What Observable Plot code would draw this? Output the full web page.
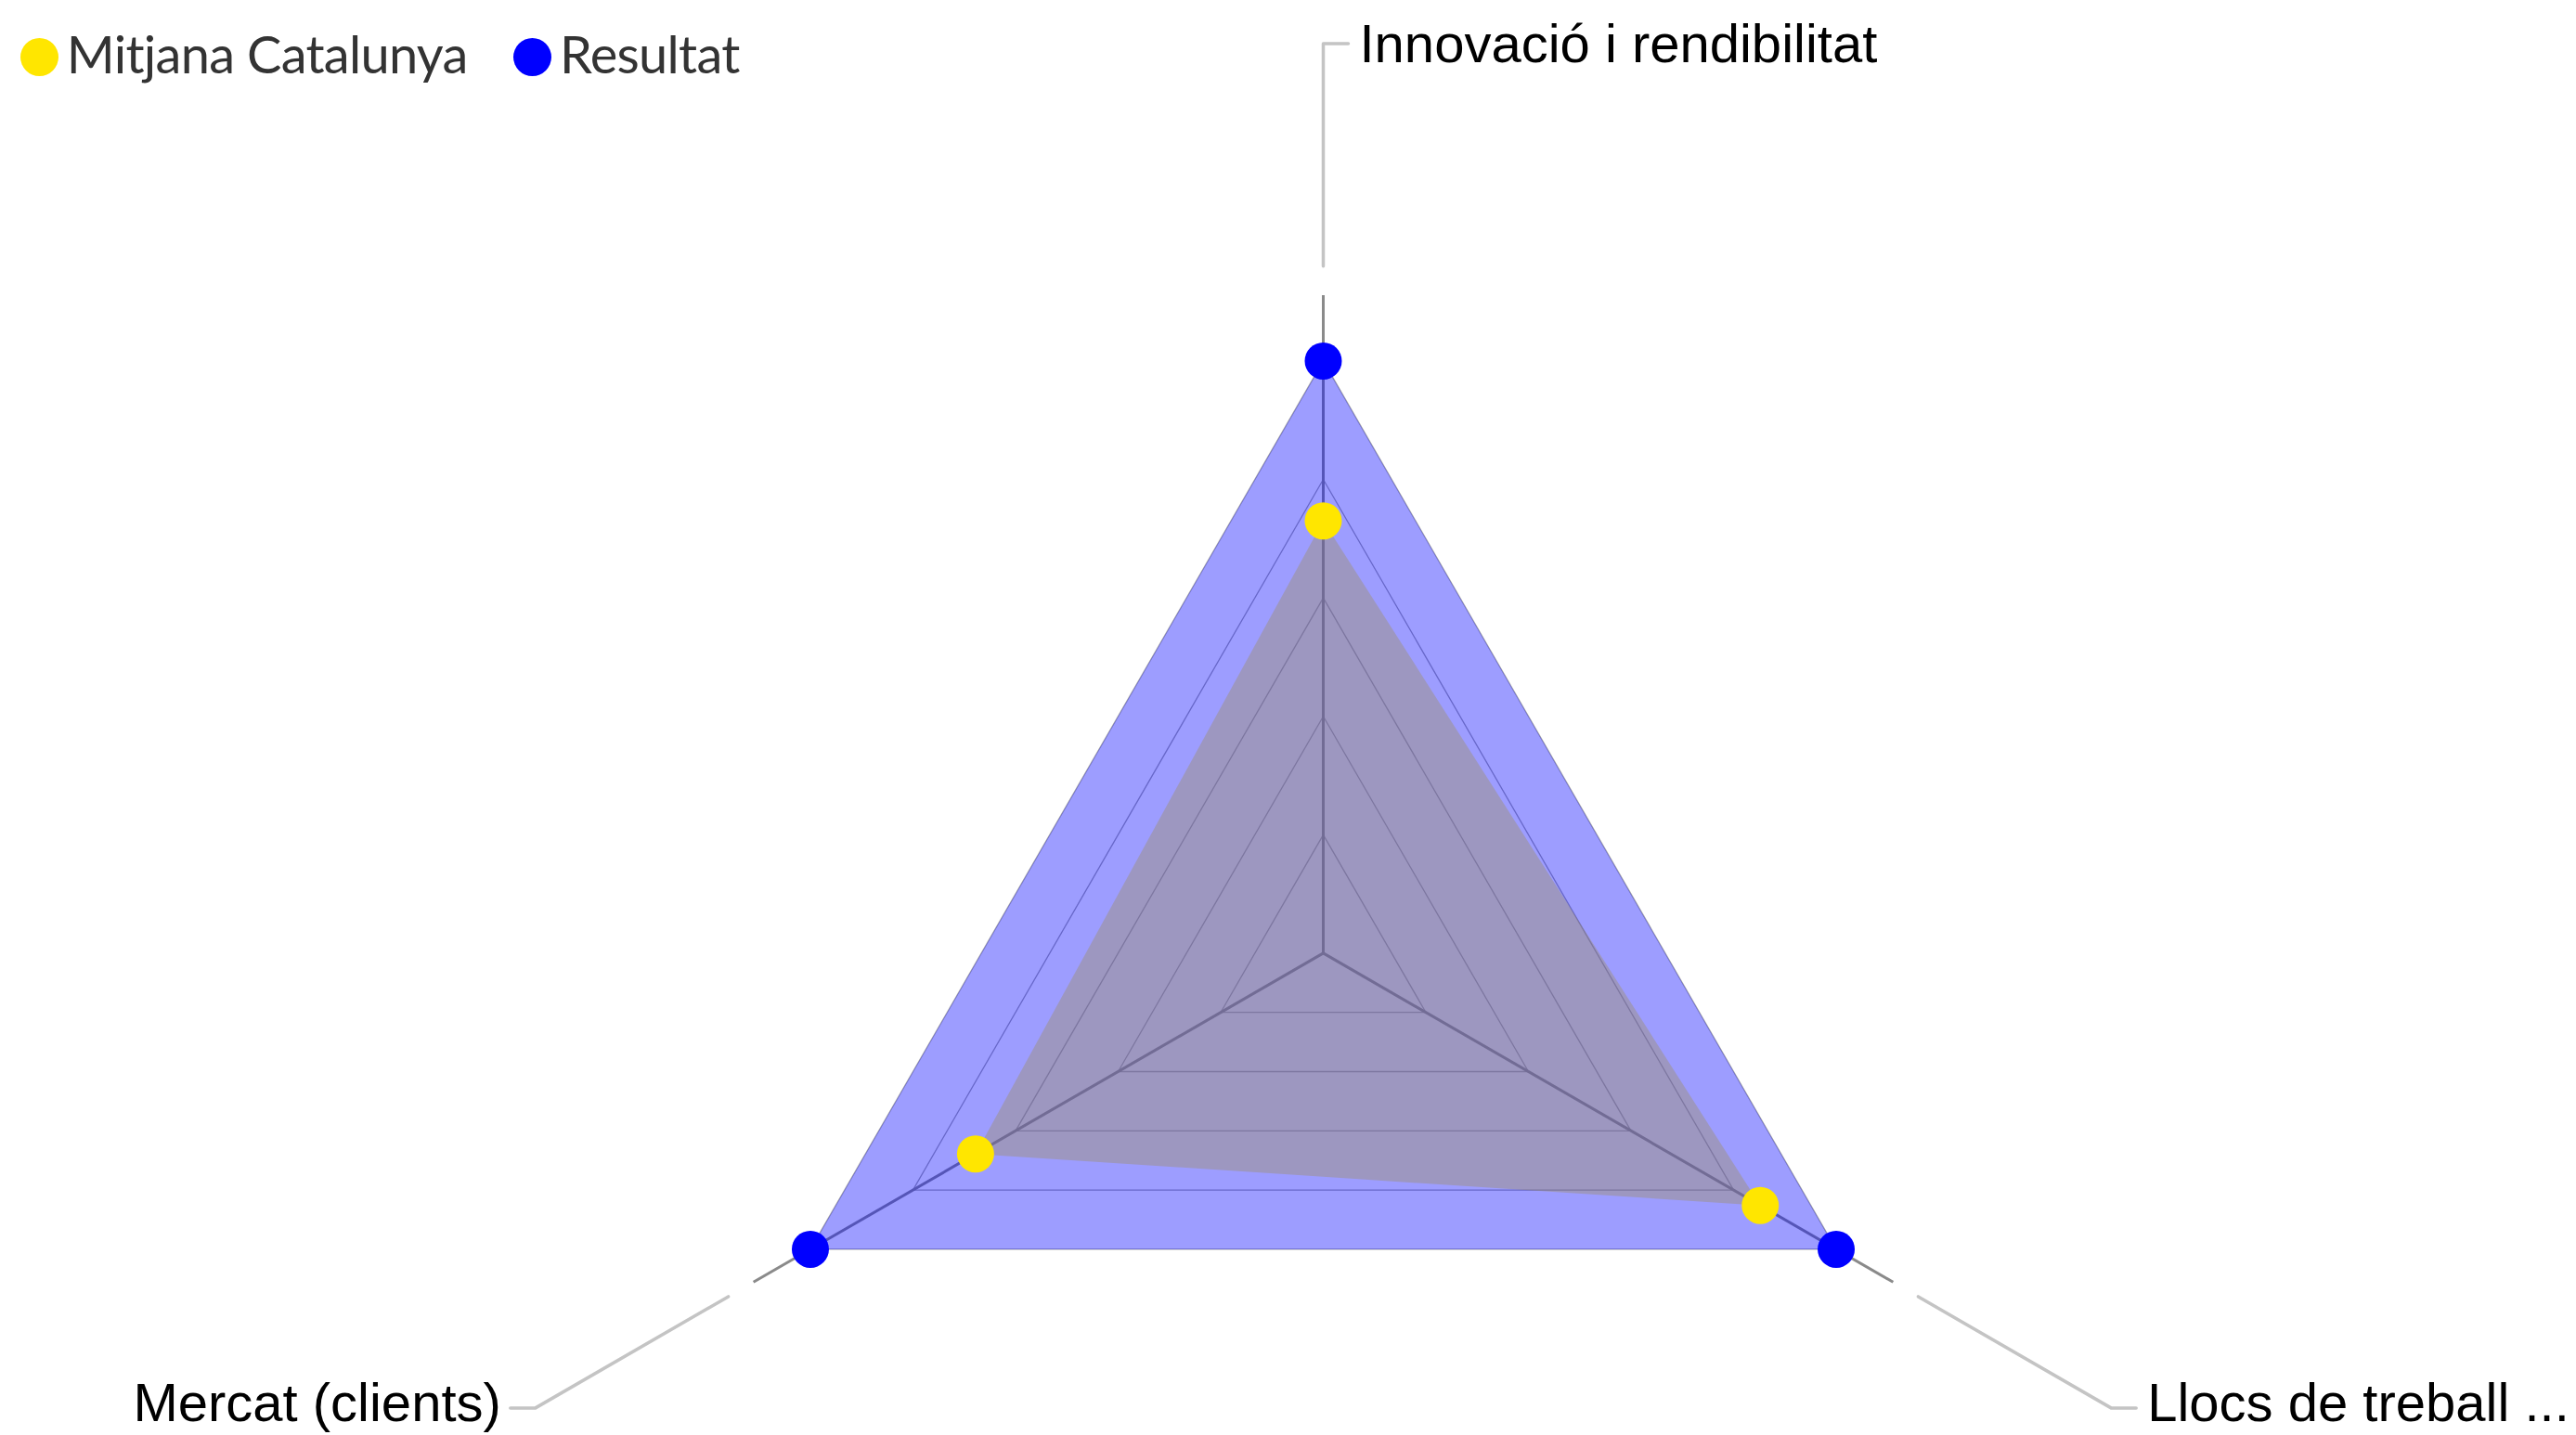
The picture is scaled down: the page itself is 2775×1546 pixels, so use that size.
<!DOCTYPE html>
<html>
<head>
<meta charset="utf-8">
<script src="https://cdn.jsdelivr.net/npm/d3@7"></script>
<script src="https://cdn.jsdelivr.net/npm/@observablehq/plot@0.6"></script>
<style>
  body { margin: 0; background: #fff; }
  #wrap { position: relative; width: 2775px; height: 1546px; overflow: hidden; }
  #legend { position: absolute; left: 21.8px; top: 0; display: flex; align-items: flex-start;
            font-family: Lato, "Open Sans", sans-serif; font-size: 56px; line-height: 56px;
            letter-spacing: -0.7px; color: #333; }
  #legend .item { display: flex; align-items: flex-start; margin-right: 49.5px; }
  #legend .sw { width: 41px; height: 41px; border-radius: 50%; margin-top: 41.2px; margin-right: 9px; }
  #legend .lab { margin-top: 29.5px; white-space: nowrap; }
</style>
</head>
<body>
<div id="wrap"><div id="chart"></div><div id="legend"></div></div>
<script>
// ---- data ----
const categories = ["Innovació i rendibilitat", "Llocs de treball ...", "Mercat (clients)"];
const seriesNames = ["Mitjana Catalunya", "Resultat"];
const seriesColors = ["#FFE600", "#0000FF"];
const mitjana = [3.65, 4.26, 3.39];
const resultat = [5, 5, 5];
const levels = [1, 2, 3, 4, 5];
const maxValue = 5;

// ---- layout ----
const W = 2775, H = 1546;
const cx = 1425, cy = 1026.4, pxPerUnit = 127.6;
const xDomain = [-cx / pxPerUnit, (W - cx) / pxPerUnit];
const yDomain = [-(H - cy) / pxPerUnit, cy / pxPerUnit];

const n = categories.length;
const angle = i => 2 * Math.PI * i / n;
const polar = (i, r) => ({x: r * Math.sin(angle(i)), y: r * Math.cos(angle(i))});
const side = i => (Math.sin(angle(i)) < -1e-6 ? -1 : 1);

const seriesValues = [mitjana, resultat];
const seriesData = seriesValues.map((vals, s) =>
  categories.map((c, i) => ({series: seriesNames[s], category: c, value: vals[i], ...polar(i, vals[i])})));

const rings = levels.flatMap(l =>
  [...categories.map((c, i) => ({level: l, ...polar(i, l)})), {level: l, ...polar(0, l)}]);

const spokeLen = maxValue * 1.111;
const spokes = categories.map((c, i) => {
  const e = polar(i, spokeLen);
  return {category: c, x1: 0, y1: 0, x2: e.x, y2: e.y};
});

const leadStart = maxValue * 1.16, leadEnd = maxValue * 1.536, hook = 27 / pxPerUnit;
const leaders = categories.flatMap((c, i) => {
  const a = polar(i, leadStart), b = polar(i, leadEnd);
  return [{category: c, ...a}, {category: c, ...b}, {category: c, x: b.x + side(i) * hook, y: b.y}];
});
const labels = categories.map((c, i) => {
  const b = polar(i, leadEnd);
  return {category: c, side: side(i), top: Math.cos(angle(i)) > 0, x: b.x + side(i) * hook, y: b.y};
});

const labelFont = "'Liberation Sans', Arial, sans-serif";

const chart = Plot.plot({
  width: W, height: H, margin: 0,
  x: {domain: xDomain, axis: null},
  y: {domain: yDomain, axis: null},
  color: {domain: seriesNames, range: seriesColors},
  style: {background: "white", overflow: "visible"},
  marks: [
    Plot.line(rings, {x: "x", y: "y", z: "level", stroke: "#a8a8a8", strokeWidth: 1.3}),
    Plot.link(spokes, {x1: "x1", y1: "y1", x2: "x2", y2: "y2", stroke: "#8a8a8a", strokeWidth: 3}),
    Plot.line(seriesData[0], {x: "x", y: "y", fill: seriesColors[0], fillOpacity: 0.4, stroke: "none"}),
    Plot.line(seriesData[1], {x: "x", y: "y", fill: seriesColors[1], fillOpacity: 0.385, stroke: "none"}),
    Plot.line(leaders, {x: "x", y: "y", z: "category", stroke: "#c4c4c4", strokeWidth: 3.5}),
    Plot.dot(seriesData.flat(), {x: "x", y: "y", fill: "series", r: 20, stroke: "none"}),
    Plot.text(labels.filter(d => d.top), {x: "x", y: "y", text: "category", textAnchor: "start", dx: 12, dy: 2,
      fontSize: 58, fontFamily: labelFont, fill: "#000"}),
    Plot.text(labels.filter(d => !d.top && d.side > 0), {x: "x", y: "y", text: "category", textAnchor: "start", dx: 12, dy: -4,
      fontSize: 58, fontFamily: labelFont, fill: "#000"}),
    Plot.text(labels.filter(d => !d.top && d.side < 0), {x: "x", y: "y", text: "category", textAnchor: "end", dx: -10, dy: -4,
      fontSize: 58, fontFamily: labelFont, fill: "#000"})
  ]
});
document.getElementById("chart").append(chart);

// ---- legend ----
const legend = d3.select("#legend");
const items = legend.selectAll(".item").data(seriesNames).join("div").attr("class", "item");
items.append("span").attr("class", "sw").style("background", (d, i) => seriesColors[i]);
items.append("span").attr("class", "lab").text(d => d);
</script>
</body>
</html>
